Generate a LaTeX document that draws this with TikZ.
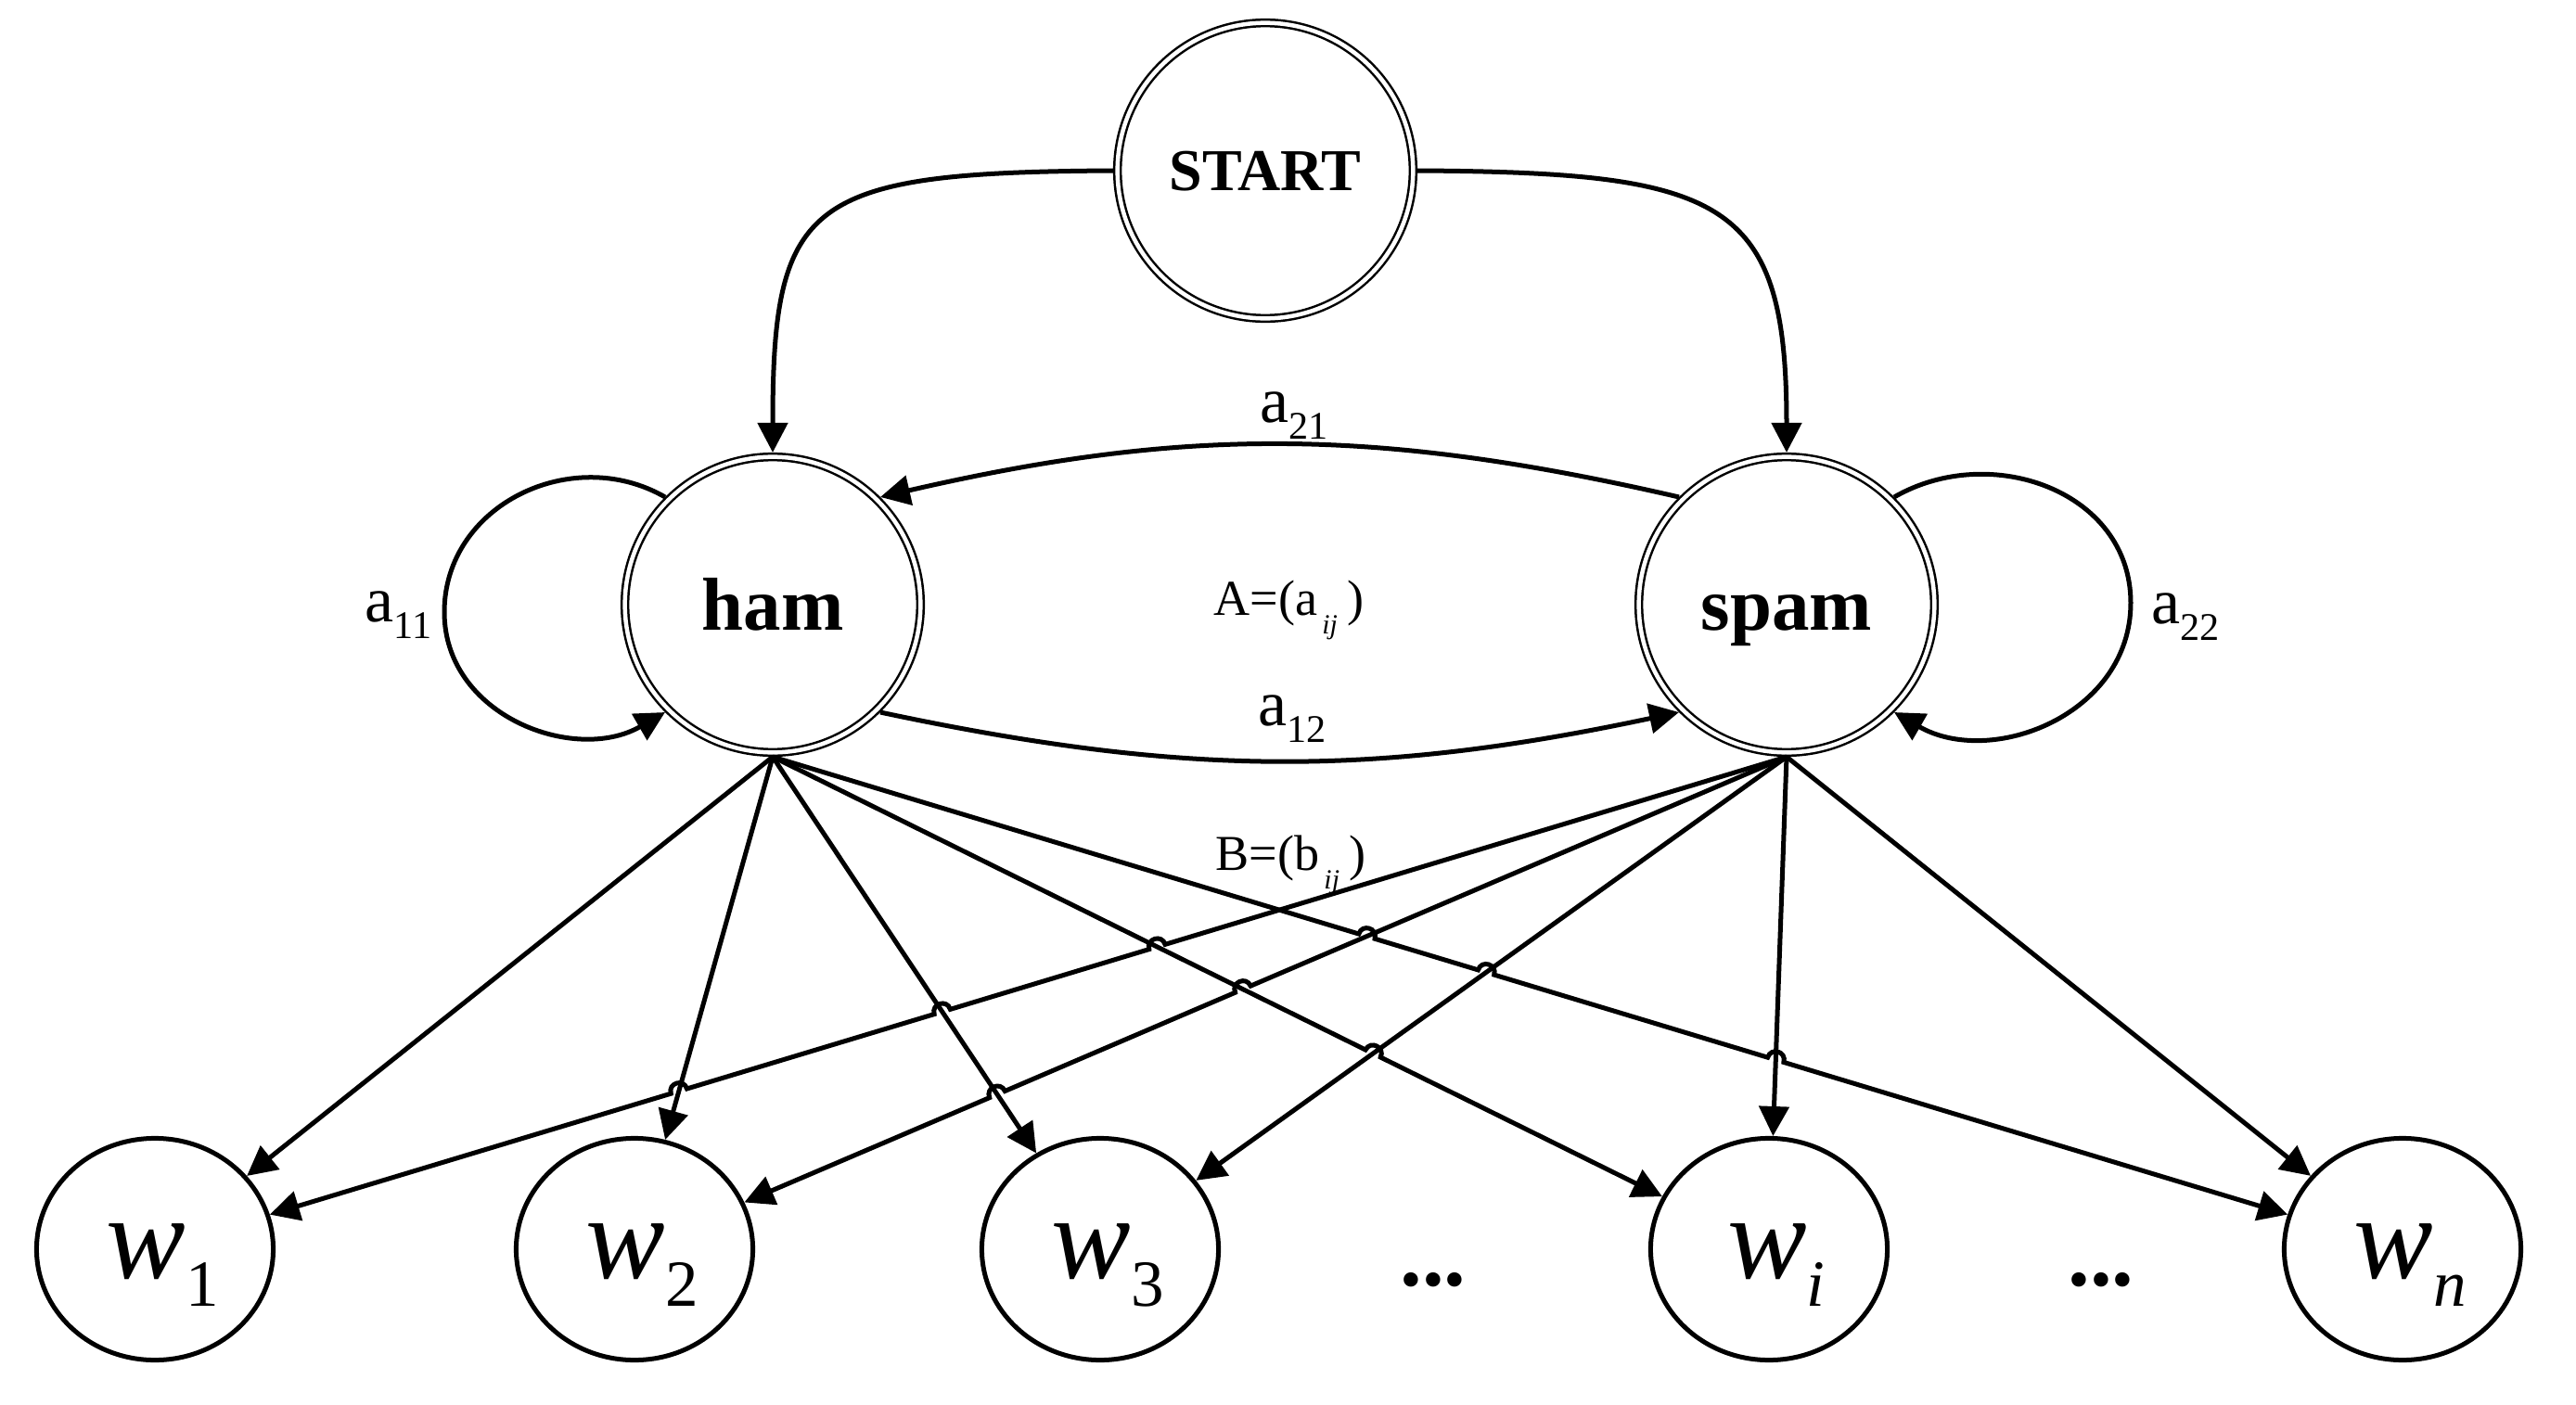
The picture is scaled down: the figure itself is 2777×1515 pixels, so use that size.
\documentclass[tikz,border=0pt]{standalone}
\usepackage{fontspec}
\setmainfont{Liberation Serif}
\usetikzlibrary{arrows.meta,calc,shapes.geometric}
\newcommand{\alab}[1]{{\fontsize{19.9pt}{22pt}\selectfont a}\raisebox{-0.18cm}{\fontsize{12pt}{14pt}\selectfont #1}}
\newcommand{\wlab}[1]{\smash{\raisebox{-0.31cm}{\hspace*{0.16cm}\fontsize{36.5pt}{40pt}\selectfont\itshape w\raisebox{-0.3cm}{\fontsize{20.2pt}{24pt}\selectfont #1}}}}
\newcommand{\mtxlab}[2]{{\fontsize{15.4pt}{18pt}\selectfont #1=(#2\hspace{0.05cm}\raisebox{-0.2cm}{\fontsize{8.5pt}{9pt}\selectfont\itshape ij}\hspace{0.1cm})}}
\begin{document}
\begin{tikzpicture}[x=0.01cm,y=0.01cm,
  dnode/.style={circle,draw,line width=0.025cm,double,double distance=0.045cm,minimum size=3.185cm,inner sep=0pt,outer sep=0.0475cm,text height=0.55cm,text depth=0cm},
  wnode/.style={ellipse,draw,line width=0.05cm,minimum width=2.55cm,minimum height=2.39cm,inner sep=0pt},
  conn/.style={line width=0.05cm,-{Triangle[length=0.32cm,width=0.32cm]}},
  lab/.style={inner sep=0pt,anchor=base west},
  dots/.style={inner sep=0pt,anchor=base,font=\fontsize{27pt}{30pt}\selectfont\bfseries},
  hopl/.style={out=90,in=90,relative,looseness=1.7},
  hopr/.style={out=-90,in=-90,relative,looseness=1.7}]
\useasboundingbox (0,0) rectangle (2777,-1515);

% states
\node[dnode,text height=0.43cm,font=\fontsize{18.2pt}{20pt}\selectfont\bfseries] (start) at (1364,-184) {START};
\node[dnode,font=\fontsize{23pt}{26pt}\selectfont\bfseries] (ham) at (833,-652) {ham};
\node[dnode,font=\fontsize{23pt}{26pt}\selectfont\bfseries] (spam) at (1926,-652) {spam};

% observations
\node[wnode] (w1) at (167,-1347) {\wlab{\upshape 1}};
\node[wnode] (w2) at (684,-1347) {\wlab{\upshape 2}};
\node[wnode] (w3) at (1186,-1347) {\wlab{\upshape 3}};
\node[wnode] (wi) at (1907,-1347) {\wlab{i}};
\node[wnode] (wn) at (2590,-1347) {\wlab{n}};
\node[dots] (d1) at (1545,-1386) {...};
\node[dots] (d2) at (2265,-1386) {...};

% labels
\node[lab] (l11) at (393,-670) {\alab{11}};
\node[lab] (l22) at (2319,-672) {\alab{22}};
\node[lab] (l12) at (1356,-782) {\alab{12}};
\node[lab] (l21) at (1358,-455) {\alab{21}};
\node[lab] (lA) at (1308,-663) {\mtxlab{A}{a}};
\node[lab] (lB) at (1310,-938) {\mtxlab{B}{b}};

% transitions
\draw[conn] (start.west) .. controls (870,-186) and (833,-215) .. (ham.north);
\draw[conn] (start.east) .. controls (1860,-186) and (1926,-215) .. (spam.north);
\draw[conn] (spam.135) to[bend right=13] (ham.45);
\draw[conn] (ham.-45) to[bend right=12] (spam.-135);
\draw[conn] (ham.135) to[out=150,in=90,looseness=1.1] (479,-660) to[out=270,in=210,looseness=1.1] (ham.225);
\draw[conn] (spam.45) to[out=30,in=90,looseness=1.1] (2297,-650) to[out=270,in=-30,looseness=1.1] (spam.-45);

% crossings
\coordinate (k1) at (intersection of ham.south--wi and spam.south--w1);
\coordinate (k2) at (intersection of ham.south--w3 and spam.south--w1);
\coordinate (k3) at (intersection of ham.south--w2 and spam.south--w1);
\coordinate (k4) at (intersection of ham.south--wi and spam.south--w2);
\coordinate (k5) at (intersection of ham.south--w3 and spam.south--w2);
\coordinate (k6) at (intersection of ham.south--wn and spam.south--w2);
\coordinate (k7) at (intersection of ham.south--wn and spam.south--w3);
\coordinate (k8) at (intersection of ham.south--wn and spam.south--wi);
\coordinate (k9) at (intersection of ham.south--wi and spam.south--w3);

% emissions from ham
\draw[conn] (ham.south) -- (w1);
\draw[conn] (ham.south) -- (w2);
\draw[conn] (ham.south) -- (w3);
\draw[conn] (ham.south) -- ($(k9)!0.09cm!(ham.south)$) to[hopl] ($(k9)!0.09cm!(wi)$) -- (wi);
\draw[conn] (ham.south) -- ($(k6)!0.09cm!(ham.south)$) to[hopl] ($(k6)!0.09cm!(wn)$)
  -- ($(k7)!0.09cm!(ham.south)$) to[hopl] ($(k7)!0.09cm!(wn)$)
  -- ($(k8)!0.09cm!(ham.south)$) to[hopl] ($(k8)!0.09cm!(wn)$) -- (wn);

% emissions from spam
\draw[conn] (spam.south) -- ($(k1)!0.09cm!(spam.south)$) to[hopr] ($(k1)!0.09cm!(w1)$)
  -- ($(k2)!0.09cm!(spam.south)$) to[hopr] ($(k2)!0.09cm!(w1)$)
  -- ($(k3)!0.09cm!(spam.south)$) to[hopr] ($(k3)!0.09cm!(w1)$) -- (w1);
\draw[conn] (spam.south) -- ($(k4)!0.09cm!(spam.south)$) to[hopr] ($(k4)!0.09cm!(w2)$)
  -- ($(k5)!0.09cm!(spam.south)$) to[hopr] ($(k5)!0.09cm!(w2)$) -- (w2);
\draw[conn] (spam.south) -- (w3);
\draw[conn] (spam.south) -- (wi);
\draw[conn] (spam.south) -- (wn);
\end{tikzpicture}
\end{document}
